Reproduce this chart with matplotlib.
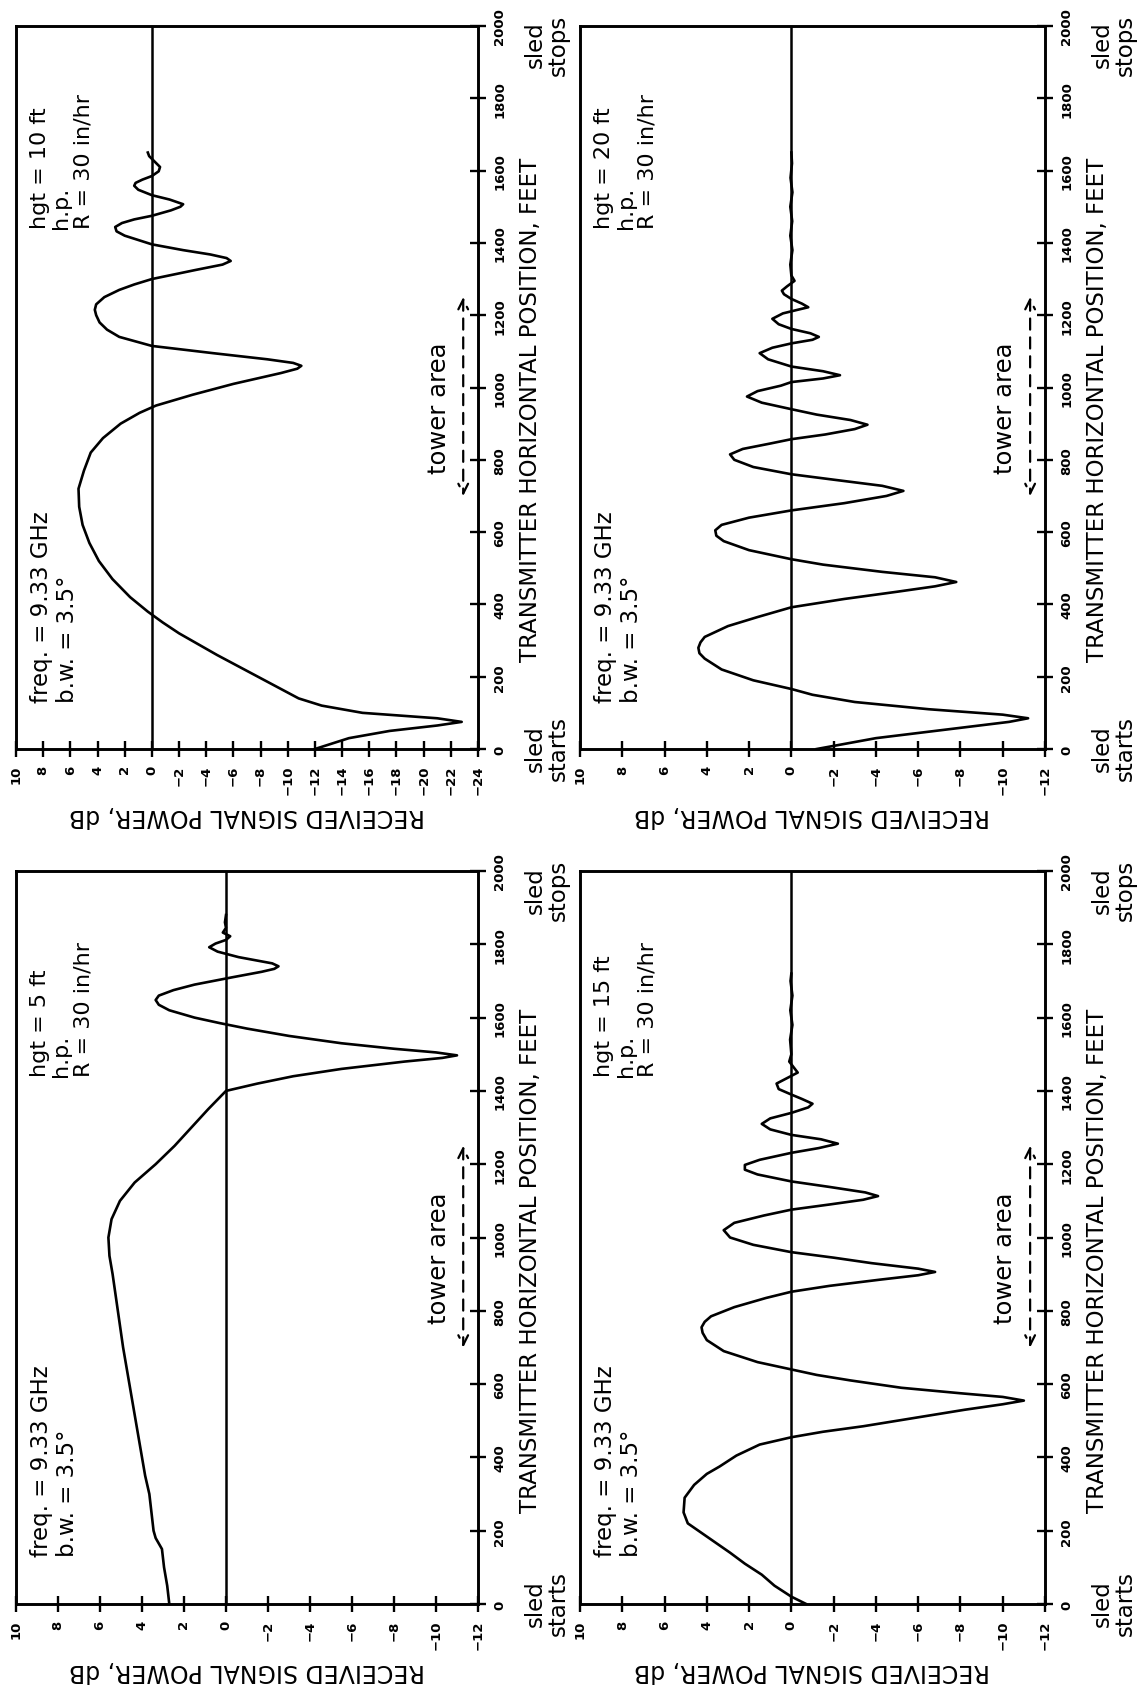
import matplotlib
matplotlib.use('Agg')
import matplotlib.pyplot as plt

# Received signal power (dB) vs transmitter horizontal position (ft)
# hgt = 5 ft
pos_5 = [0, 50, 100, 150, 180, 200, 250, 300, 350, 400, 450, 500, 600, 700, 800, 900, 950,
         1000, 1050, 1100, 1150, 1200, 1250, 1300, 1350, 1400, 1420, 1440, 1460, 1480, 1490, 1497,
         1505, 1515, 1530, 1550, 1570, 1585, 1600, 1620, 1635, 1648, 1660, 1675, 1690, 1710, 1725,
         1733, 1740, 1748, 1765, 1780, 1792, 1802, 1812, 1822, 1832, 1845, 1860, 1880]
pwr_5 = [2.7, 2.8, 2.95, 3.05, 3.35, 3.45, 3.55, 3.65, 3.85, 4.0, 4.15, 4.3, 4.6, 4.9, 5.15, 5.4, 5.55,
         5.6, 5.45, 5.05, 4.35, 3.35, 2.45, 1.65, 0.85, 0.0, -1.5, -3.2, -5.5, -8.5, -10.3, -11.0,
         -10.0, -8.0, -5.5, -3.0, -1.0, 0.3, 1.5, 2.7, 3.2, 3.35, 3.2, 2.5, 1.5, -0.3, -1.7,
         -2.3, -2.5, -2.2, -0.6, 0.4, 0.8, 0.5, 0.0, -0.2, 0.15, 0.0, 0.05, 0.0]

# hgt = 10 ft
pos_10 = [0, 30, 50, 65, 75, 85, 100, 120, 140, 170, 200, 230, 260, 290, 320, 350, 380, 420,
          470, 520, 570, 620, 670, 720, 770, 820, 860, 900, 930, 950, 980, 1010, 1040, 1052, 1060,
          1068, 1078, 1095, 1115, 1140, 1160, 1180, 1200, 1215, 1230, 1250, 1270, 1285, 1300, 1325,
          1340, 1350, 1358, 1368, 1380, 1396, 1420, 1432, 1444, 1455, 1465, 1475, 1490, 1500, 1507,
          1520, 1532, 1547, 1558, 1566, 1575, 1585, 1598, 1610, 1625, 1640, 1650]
pwr_10 = [-12.0, -14.5, -17.5, -21.0, -22.8, -21.0, -15.5, -12.5, -10.8, -9.3, -7.8, -6.3, -4.8, -3.4,
          -2.0, -0.8, 0.3, 1.6, 2.9, 3.9, 4.6, 5.1, 5.35, 5.4, 5.0, 4.5, 3.6, 2.3, 0.9, -0.3,
          -3.0, -6.0, -9.5, -10.7, -11.0, -10.4, -8.5, -4.5, 0.0, 2.4, 3.3, 3.85, 4.1, 4.2, 4.1,
          3.5, 2.4, 1.3, 0.0, -3.2, -5.2, -5.8, -5.5, -4.3, -2.3, 0.0, 2.0, 2.6, 2.7, 2.2, 1.3,
          0.0, -1.4, -2.1, -2.3, -1.3, 0.0, 1.0, 1.3, 1.2, 0.7, 0.0, -0.5, -0.6, -0.2, 0.2, 0.3]

# hgt = 15 ft
pos_15 = [0, 20, 50, 80, 110, 140, 180, 220, 250, 290, 325, 355, 375, 405, 435, 455, 470, 485,
          500, 515, 530, 545, 555, 565, 575, 590, 610, 625, 640, 660, 690, 720, 740, 755, 770, 785,
          810, 835, 852, 868, 885, 897, 906, 915, 930, 945, 960, 980, 1000, 1020, 1040, 1060, 1076,
          1090, 1103, 1113, 1123, 1138, 1153, 1172, 1185, 1198, 1212, 1231, 1244, 1256, 1268, 1280,
          1295, 1310, 1325, 1340, 1355, 1365, 1378, 1390, 1405, 1420, 1435, 1450, 1465, 1480,
          1500, 1540, 1580, 1620, 1660, 1700, 1720]
pwr_15 = [-0.7, 0.0, 0.8, 1.4, 2.2, 2.9, 3.9, 4.9, 5.1, 5.05, 4.6, 4.0, 3.4, 2.6, 1.5, 0.0, -1.5, -3.4,
          -5.0, -6.6, -8.2, -10.0, -11.0, -10.0, -8.0, -5.2, -2.8, -1.2, 0.0, 1.6, 3.2, 4.0, 4.2, 4.25, 4.1,
          3.8, 2.7, 1.2, 0.0, -1.8, -4.2, -6.0, -6.8, -6.0, -3.8, -2.0, 0.0, 1.8, 2.9, 3.2, 2.7, 1.3, 0.0,
          -1.8, -3.4, -4.1, -3.5, -1.8, 0.0, 1.6, 2.2, 2.2, 1.5, 0.0, -1.3, -2.2, -1.4, 0.0,
          1.0, 1.4, 1.0, 0.0, -0.8, -1.0, -0.5, 0.0, 0.6, 0.7, 0.2, -0.3, -0.1, 0.1,
          0.0, 0.06, -0.05, 0.05, -0.05, 0.04, 0.0]

# hgt = 20 ft
pos_20 = [0, 30, 55, 75, 85, 95, 110, 130, 150, 166, 190, 220, 250, 265, 280, 295, 310, 340, 365, 392,
          415, 435, 450, 462, 475, 490, 510, 525, 550, 575, 590, 605, 620, 640, 660, 680, 700, 714,
          728, 745, 760, 780, 800, 815, 830, 845, 857, 870, 885, 897, 910, 925, 940, 958, 975,
          990, 1005, 1015, 1025, 1034, 1045, 1058, 1078, 1095, 1110, 1122, 1132, 1140, 1150,
          1162, 1175, 1190, 1205, 1215, 1222, 1232, 1245, 1258, 1268, 1280, 1295, 1310, 1340,
          1380, 1420, 1460, 1500, 1540, 1580, 1620, 1650]
pwr_20 = [-1.2, -4.0, -7.5, -10.3, -11.2, -10.0, -6.5, -3.0, -1.0, 0.0, 1.8, 3.3, 4.1, 4.35, 4.4, 4.3, 4.1,
          3.0, 1.6, 0.0, -2.5, -5.0, -6.8, -7.8, -6.8, -4.3, -1.5, 0.0, 2.0, 3.2, 3.55, 3.6, 3.3, 2.0,
          0.0, -2.5, -4.5, -5.3, -4.3, -2.0, 0.0, 1.8, 2.7, 2.9, 2.3, 1.0, 0.0, -1.6, -3.0, -3.6, -2.8,
          -1.2, 0.0, 1.4, 2.1, 1.6, 0.5, 0.0, -1.5, -2.3, -1.5, 0.0, 1.1, 1.5, 0.9, 0.0, -1.0, -1.3,
          -0.9, 0.0, 0.6, 0.9, 0.4, -0.3, -0.8, -0.5, 0.0, 0.35, 0.45, 0.2, -0.15, 0.0, 0.05,
          -0.05, 0.05, -0.04, 0.05, -0.05, 0.04, -0.03, 0.0]

heights = ['5', '10', '15', '20']
db_bottom = [-12, -24, -12, -12]
tower_from, tower_to = 700, 1250
tower_label_at = 945

fig = plt.figure(figsize=(11.4, 16.9), dpi=100)
W, H = 1140.0, 1690.0


def panel(left, right, top, bottom):
    return fig.add_axes([left / W, (H - bottom) / H, (right - left) / W, (bottom - top) / H])


axes = {
    '10': panel(16, 478, 27, 750),
    '5': panel(16, 478, 872, 1605),
    '20': panel(580, 1045, 27, 750),
    '15': panel(580, 1045, 872, 1605),
}
data = {'5': (pos_5, pwr_5), '10': (pos_10, pwr_10), '15': (pos_15, pwr_15), '20': (pos_20, pwr_20)}

for hgt, lo in zip(heights, db_bottom):
    ax = axes[hgt]
    pos, pwr = data[hgt]
    ax.plot(pwr, pos, color='black', lw=1.9)
    ax.axvline(0, color='black', lw=1.8)
    ax.set_xlim(10, lo)
    ax.set_ylim(0, 2000)
    for s in ax.spines.values():
        s.set_linewidth(2.1)

    ax.set_xticks(range(10, lo - 1, -2))
    ax.set_yticks(range(0, 2001, 200))
    ax.yaxis.tick_right()
    ax.tick_params(axis='both', direction='inout', length=12, width=1.7, labelsize=9.5,
                   labelrotation=90, pad=5)
    for lbl in ax.get_yticklabels():
        lbl.set_va('center')
    for lbl in ax.get_xticklabels() + ax.get_yticklabels():
        lbl.set_fontweight('bold')

    ax.set_xlabel('RECEIVED SIGNAL POWER, dB', rotation=180, fontsize=17, labelpad=7)
    ax.yaxis.set_label_position('right')
    ax.set_ylabel('TRANSMITTER HORIZONTAL POSITION, FEET', fontsize=16.5, labelpad=9)
    ax.yaxis.label.set_y(0.47)

    ax.text(0.03, 0.065, 'freq. = 9.33 GHz\nb.w. = 3.5°', transform=ax.transAxes,
            rotation=90, ha='left', va='bottom', fontsize=16.5, linespacing=1.15)
    ax.text(0.03, 0.72, 'hgt = %s ft\nh.p.\nR = 30 in/hr' % hgt, transform=ax.transAxes,
            rotation=90, ha='left', va='bottom', fontsize=16, linespacing=1.1)

    ax.text(0.915, tower_label_at, 'tower area', transform=ax.get_yaxis_transform(),
            rotation=90, ha='center', va='center', fontsize=17.5)
    ax.annotate('', xy=(0.968, tower_from), xytext=(0.968, tower_to),
                xycoords=('axes fraction', 'data'), textcoords=('axes fraction', 'data'),
                arrowprops=dict(arrowstyle='<->, head_length=0.7, head_width=0.35',
                                linestyle=(0, (5, 3.5)), lw=1.6, color='black',
                                shrinkA=0, shrinkB=0))

    ax.annotate('sled\nstarts', xy=(1, 5), xycoords=('axes fraction', 'data'),
                xytext=(33, 0), textcoords='offset points', rotation=90,
                ha='left', va='center', fontsize=16.5, multialignment='center',
                linespacing=1.0, annotation_clip=False)
    ax.annotate('sled\nstops', xy=(1, 1950), xycoords=('axes fraction', 'data'),
                xytext=(33, 0), textcoords='offset points', rotation=90,
                ha='left', va='center', fontsize=16.5, multialignment='center',
                linespacing=1.0, annotation_clip=False)

fig.savefig('out.png', dpi=100)
